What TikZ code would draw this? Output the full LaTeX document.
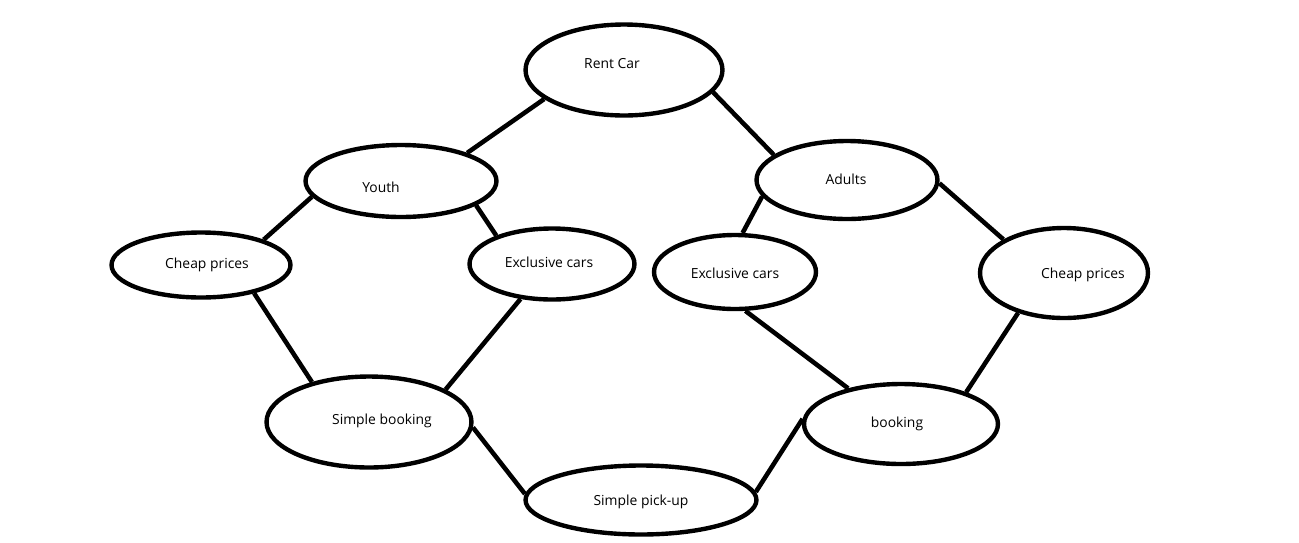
\documentclass[tikz,border=0pt]{standalone}
\usepackage{fontspec}
\setmainfont{Open Sans}
\usepackage{tikz}
\usetikzlibrary{shapes.geometric}
\tikzstyle{oval}=[ellipse, draw, line width=2.5pt, inner sep=0pt]
\tikzstyle{link}=[line width=2.6pt]
\tikzstyle{txt}=[font=\fontsize{7.9}{9}\selectfont, yshift=-0.03cm]

\begin{document}
\begin{tikzpicture}[x=0.02cm, y=-0.02cm]
\useasboundingbox (0,0) rectangle (1299,542);

% top
\node[oval, minimum width=3.94cm, minimum height=1.82cm,
    label={[txt, xshift=-0.24cm, yshift=0.16cm]center:Rent Car}] (rent) at (624,70) {};

% groups
\node[oval, minimum width=3.82cm, minimum height=1.44cm,
    label={[txt, xshift=-0.40cm, yshift=-0.10cm]center:Youth}] (youth) at (401,181) {};
\node[oval, minimum width=3.62cm, minimum height=1.56cm,
    label={[txt, xshift=-0.02cm, yshift=0.04cm]center:Adults}] (adults) at (847,180) {};

% needs
\node[oval, minimum width=3.58cm, minimum height=1.30cm,
    label={[txt, xshift=0.12cm, yshift=0.04cm]center:Cheap prices}] (cheapL) at (201,265) {};
\node[oval, minimum width=3.30cm, minimum height=1.42cm,
    label={[txt, xshift=-0.06cm, yshift=0.06cm]center:Exclusive cars}] (exclL) at (552,264) {};
\node[oval, minimum width=3.24cm, minimum height=1.48cm,
    label={[txt]center:Exclusive cars}] (exclR) at (735,272) {};
\node[oval, minimum width=3.36cm, minimum height=1.80cm,
    label={[txt, xshift=0.38cm]center:Cheap prices}] (cheapR) at (1064,273) {};

% booking
\node[oval, minimum width=4.10cm, minimum height=1.82cm,
    label={[txt, xshift=0.26cm, yshift=0.06cm]center:Simple booking}] (sbook) at (369,422) {};
\node[oval, minimum width=3.88cm, minimum height=1.60cm,
    label={[txt, xshift=-0.08cm, yshift=0.04cm]center:booking}] (book) at (901,424) {};
\node[oval, minimum width=4.62cm, minimum height=1.38cm,
    label={[txt]center:Simple pick-up}] (pickup) at (641,500) {};

\draw[link] (rent.200) -- (youth.23);
\draw[link] (rent.346) -- (adults.161);
\draw[link] (youth.190) -- (cheapL.22);
\draw[link] (youth.342) -- (exclL.153);
\draw[link] (adults.191) -- (exclR.79);
\draw[link] (adults.358) -- (cheapR.151);
\draw[link] (cheapL.332) -- (sbook.145);
\draw[link] (exclL.228) -- (sbook.23);
\draw[link] (exclR.285) -- (book.146);
\draw[link] (cheapR.221) -- (book.26);
\draw[link] (sbook.357) -- (pickup.177);
\draw[link] (book.177) -- (pickup.4);

\end{tikzpicture}
\end{document}
